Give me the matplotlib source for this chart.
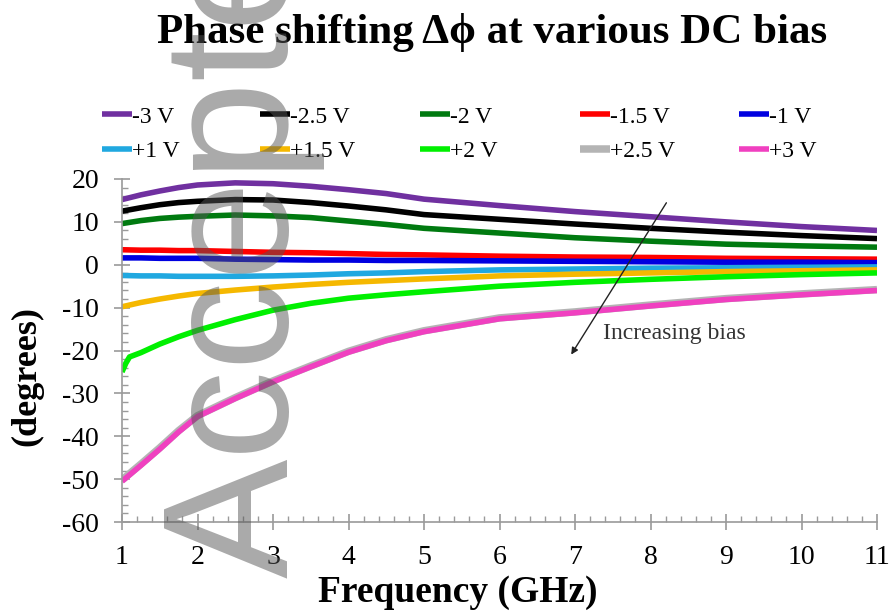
import matplotlib
matplotlib.use("Agg")
import matplotlib.pyplot as plt
from matplotlib.ticker import MultipleLocator

plt.rcParams['font.family'] = ['Liberation Serif', 'DejaVu Serif']
plt.rcParams['axes.unicode_minus'] = False

## frequency grid (GHz) shared by most traces
freq = [1, 1.25, 1.5, 1.75, 2, 2.5, 3, 3.5, 4, 4.5, 5, 6, 7, 8, 9, 10, 11]
## the +2 V trace has a sharp drop at the start, read on a finer grid
freq_p2 = [1, 1.05, 1.1, 1.25, 1.5, 1.75, 2, 2.5, 3, 3.5, 4, 4.5, 5, 6, 7, 8, 9, 10, 11]

m3 = [15.2, 16.3, 17.2, 18.0, 18.6, 19.1, 18.9, 18.3, 17.5, 16.6, 15.3, 13.8, 12.4, 11.2, 10.0, 8.9, 8.0]
m25 = [12.5, 13.3, 14.0, 14.5, 14.8, 15.2, 15.1, 14.5, 13.7, 12.8, 11.7, 10.6, 9.5, 8.5, 7.6, 6.8, 6.1]
m2 = [9.6, 10.3, 10.8, 11.1, 11.3, 11.6, 11.4, 11.0, 10.2, 9.4, 8.5, 7.4, 6.3, 5.5, 4.8, 4.4, 4.1]
m15 = [3.5, 3.4, 3.4, 3.3, 3.3, 3.1, 2.9, 2.8, 2.6, 2.4, 2.3, 2.0, 1.8, 1.7, 1.5, 1.4, 1.3]
m1 = [1.6, 1.6, 1.5, 1.5, 1.5, 1.3, 1.2, 1.1, 1.1, 1.0, 1.0, 0.9, 0.8, 0.7, 0.6, 0.6, 0.5]
p1 = [-2.5, -2.6, -2.6, -2.7, -2.7, -2.7, -2.6, -2.4, -2.1, -1.9, -1.6, -1.2, -1.0, -0.8, -0.7, -0.6, -0.5]
p15 = [-9.8, -8.8, -8.0, -7.3, -6.7, -5.9, -5.2, -4.6, -4.1, -3.7, -3.3, -2.6, -2.2, -1.9, -1.6, -1.4, -1.2]
p2 = [-25.0, -23.0, -21.5, -20.5, -18.5, -16.8, -15.3, -12.8, -10.6, -9.0, -7.8, -7.0, -6.3, -5.0, -4.1, -3.4, -2.8, -2.3, -1.9]
p25 = [-50.2, -46.5, -42.7, -38.7, -35.2, -31.0, -27.1, -23.6, -20.2, -17.5, -15.4, -12.4, -11.0, -9.4, -7.9, -6.8, -5.8]
p3 = [-50.5, -46.8, -43.0, -39.0, -35.4, -31.2, -27.3, -23.8, -20.4, -17.7, -15.6, -12.6, -11.2, -9.6, -8.1, -7.0, -6.0]

labels = ["-3 V", "-2.5 V", "-2 V", "-1.5 V", "-1 V",
          "+1 V", "+1.5 V", "+2 V", "+2.5 V", "+3 V"]
colors = ["#7030a0", "#000000", "#007a10", "#ff0000", "#0000e0",
          "#20a8e0", "#f5b800", "#00f000", "#b4b4b4", "#f040c0"]

fig = plt.figure(figsize=(8.91, 6.11), dpi=100)
ax = fig.add_axes([122/891, 1-522/611, (877-122)/891, (522-179)/611])

series = [(freq, m3), (freq, m25), (freq, m2), (freq, m15), (freq, m1),
          (freq, p1), (freq, p15), (freq_p2, p2), (freq, p25), (freq, p3)]
handles = []
for i in range(len(series)):
	x, y = series[i]
	lw = 4.0
	if labels[i] == "+2.5 V":
		lw = 5.4
	h, = ax.plot(x, y, color=colors[i], lw=lw, label=labels[i], solid_capstyle="butt")
	handles.append(h)

ax.set_xlim(1, 11)
ax.set_ylim(-60, 20)
ax.xaxis.set_major_locator(MultipleLocator(1))
ax.xaxis.set_minor_locator(MultipleLocator(0.2))
ax.yaxis.set_major_locator(MultipleLocator(10))
ax.yaxis.set_minor_locator(MultipleLocator(2))
for s in ["top", "right"]:
	ax.spines[s].set_visible(False)
for s in ["left", "bottom"]:
	ax.spines[s].set_color("#9a9a9a")
	ax.spines[s].set_linewidth(1.2)
ax.tick_params(which="major", direction="inout", length=11, width=1.2, color="#9a9a9a",
               labelsize=20, pad=11)
ax.tick_params(which="minor", direction="in", length=4, width=1.0, color="#9a9a9a")

## arrow showing the bias trend
ax.annotate("", xy=(6.93, -21.5), xytext=(8.23, 15.0),
            arrowprops=dict(arrowstyle="-|>", color="#222222", lw=1.0, mutation_scale=10))
ax.text(7.37, -16, "Increasing bias", fontsize=17, color="#333333", va="center", ha="left")

fig.text(492/891, 1-43/611, "Phase shifting \u0394\u03d5 at various DC bias",
         fontsize=31, fontweight="bold", ha="center", va="baseline")
fig.text(458/891, 1-602/611, "Frequency (GHz)", fontsize=27, fontweight="bold",
         ha="center", va="baseline")
fig.text(27/891, 1-376/611, "(degrees)", fontsize=26, fontweight="bold",
         rotation=90, ha="center", va="center")

## legend: 5 columns of 2 rows, each column its own legend so the spacing is even
col_x = [102, 260, 420, 580, 739]
for c in range(5):
	fig.legend(handles=[handles[c], handles[c+5]], labels=[labels[c], labels[c+5]],
	           loc="upper left", bbox_to_anchor=(col_x[c]/891, 1-106/611),
	           frameon=False, fontsize=17, handlelength=1.27, handletextpad=0.0,
	           labelspacing=0.55, borderpad=0, borderaxespad=0)

## watermark
fig.text(288/891, 1-578/611, "Accepted", fontsize=129, family="Liberation Sans",
         color="#555555", alpha=0.5, rotation=90, rotation_mode="anchor",
         ha="left", va="baseline", zorder=10)

fig.savefig("out.png", dpi=100)
